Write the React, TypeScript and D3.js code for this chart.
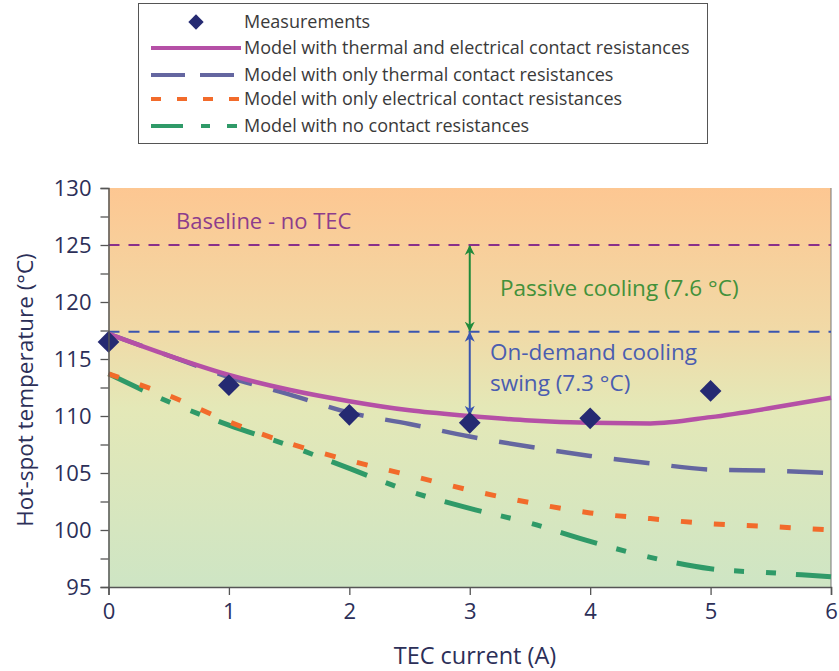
import React, { useEffect, useRef } from "react";
import * as d3 from "d3";

// data
const currents = [0, 1, 2, 3, 4, 5];
const measured = [116.5, 112.7, 110.1, 109.4, 109.8, 112.2];

const modelX = [0, 0.5, 1, 1.5, 2, 2.5, 3, 3.5, 4, 4.5, 5, 5.5, 6];
const bothContact = [117.2, 115.3, 113.6, 112.3, 111.3, 110.5, 110.0, 109.6, 109.4, 109.35, 109.9, 110.7, 111.6];
const thermalOnly = [117.2, 115.3, 113.4, 111.9, 110.3, 109.3, 108.2, 107.3, 106.5, 105.85, 105.3, 105.2, 105.0];
const electricalOnly = [113.7, 111.8, 109.5, 107.6, 106.1, 104.8, 103.5, 102.4, 101.5, 101.0, 100.55, 100.3, 100.0];
const noContact = [113.7, 111.25, 109.2, 107.4, 105.4, 103.4, 101.9, 100.6, 99.0, 97.6, 96.6, 96.25, 95.9];

const baselineTemp = 125;
const passiveTemp = 117.4;
const swingBottom = 110.1;
const arrowAt = 3;

const xTicks = [0, 1, 2, 3, 4, 5, 6];
const yTicks = [95, 100, 105, 110, 115, 120, 125, 130];
const yMinor = [97.5, 102.5, 107.5, 112.5, 117.5, 122.5, 127.5];

const series = [
  { label: "Model with thermal and electrical contact resistances", values: bothContact, color: "#b550a6", dash: null, legendDash: null, width: 4.5 },
  { label: "Model with only thermal contact resistances", values: thermalOnly, color: "#6466a0", dash: "36,22", legendDash: "34,15", width: 4.5 },
  { label: "Model with only electrical contact resistances", values: electricalOnly, color: "#f26b2b", dash: "11,22", legendDash: "10,16", width: 5 },
  { label: "Model with no contact resistances", values: noContact, color: "#2f9a68", dash: "38,20,10,22,10,20", legendDash: "32,18,9,17,10,20", width: 5 },
];

const FONT = "'Open Sans', 'Noto Sans', sans-serif";

const App = () => {
  const svgRef = useRef<SVGSVGElement>(null);

  useEffect(() => {
    const width = 839, height = 671;
    const left = 108.5, right = 831, top = 188, bottom = 587;

    const svg = d3.select(svgRef.current)
      .attr("width", width)
      .attr("height", height)
      .style("display", "block")
      .style("background", "#fff");
    svg.selectAll("*").remove();

    const x = d3.scaleLinear().domain([0, 6]).range([left, right]);
    const y = d3.scaleLinear().domain([95, 130]).range([bottom, top]);

    const defs = svg.append("defs");
    const grad = defs.append("linearGradient")
      .attr("id", "bg").attr("x1", 0).attr("y1", 0).attr("x2", 0).attr("y2", 1);
    [["0%", "#fdc792"], ["35%", "#f1d9a6"], ["55%", "#e4e8b7"], ["100%", "#cee5c4"]]
      .forEach(([o, c]) => grad.append("stop").attr("offset", o).attr("stop-color", c));

    defs.append("marker").attr("id", "gHead").attr("viewBox", "0 0 10 10")
      .attr("refX", 9).attr("refY", 5).attr("markerWidth", 5).attr("markerHeight", 6)
      .attr("orient", "auto-start-reverse")
      .append("path").attr("d", "M0,0 L10,5 L0,10 L3,5 Z").attr("fill", "#1f8a3a");
    defs.append("marker").attr("id", "bHead").attr("viewBox", "0 0 10 10")
      .attr("refX", 9).attr("refY", 5).attr("markerWidth", 5).attr("markerHeight", 6)
      .attr("orient", "auto-start-reverse")
      .append("path").attr("d", "M0,0 L10,5 L0,10 L3,5 Z").attr("fill", "#3a55b0");

    // plot background
    svg.append("rect")
      .attr("x", left).attr("y", top)
      .attr("width", right - left).attr("height", bottom - top)
      .attr("fill", "url(#bg)");
    svg.append("line")
      .attr("x1", right).attr("x2", right).attr("y1", top).attr("y2", bottom)
      .attr("stroke", "#777").attr("stroke-width", 1);

    // reference lines
    svg.append("line")
      .attr("x1", left).attr("x2", right)
      .attr("y1", y(baselineTemp)).attr("y2", y(baselineTemp))
      .attr("stroke", "#8a2f8a").attr("stroke-width", 2).attr("stroke-dasharray", "11,9");
    svg.append("line")
      .attr("x1", left).attr("x2", right)
      .attr("y1", y(passiveTemp)).attr("y2", y(passiveTemp))
      .attr("stroke", "#3a55b0").attr("stroke-width", 2).attr("stroke-dasharray", "11,9");

    // arrows
    svg.append("line")
      .attr("x1", x(arrowAt)).attr("x2", x(arrowAt))
      .attr("y1", y(baselineTemp) + 1).attr("y2", y(passiveTemp) - 1)
      .attr("stroke", "#1f8a3a").attr("stroke-width", 2)
      .attr("marker-start", "url(#gHead)").attr("marker-end", "url(#gHead)");
    svg.append("line")
      .attr("x1", x(arrowAt)).attr("x2", x(arrowAt))
      .attr("y1", y(passiveTemp) + 1).attr("y2", y(swingBottom))
      .attr("stroke", "#3a55b0").attr("stroke-width", 2)
      .attr("marker-start", "url(#bHead)").attr("marker-end", "url(#bHead)");

    // annotations
    const note = (tx: number, ty: number, txt: string, col: string, size: number) =>
      svg.append("text").attr("x", tx).attr("y", ty)
        .attr("font-family", FONT).attr("font-size", size).attr("fill", col).text(txt);
    note(176, 229, "Baseline - no TEC", "#8c3d8c", 22);
    note(500, 296, "Passive cooling (7.6 °C)", "#43913a", 22.5);
    note(490, 360, "On-demand cooling", "#4a5db0", 22.5);
    note(490, 391, "swing (7.3 °C)", "#4a5db0", 22.5);

    // model lines
    const line = d3.line<number>()
      .x((_, i) => x(modelX[i]))
      .y(d => y(d))
      .curve(d3.curveMonotoneX);

    [...series].reverse().forEach(s => {
      svg.append("path")
        .attr("d", line(s.values))
        .attr("fill", "none")
        .attr("stroke", s.color)
        .attr("stroke-width", s.width)
        .attr("stroke-dasharray", s.dash)
        .attr("stroke-linejoin", "round");
    });

    // measurements
    const diamond = d3.symbol().type(d3.symbolDiamond2).size(300);
    svg.selectAll("path.meas")
      .data(measured)
      .enter()
      .append("path")
      .attr("class", "meas")
      .attr("d", diamond)
      .attr("transform", (d, i) => `translate(${x(currents[i])},${y(d)})`)
      .attr("fill", "#252a72");

    // X-axis
    const gx = svg.append("g")
      .attr("transform", `translate(0,${bottom})`)
      .call(d3.axisBottom(x).tickValues(xTicks).tickFormat(d3.format("d")).tickSize(8).tickPadding(8));
    // Y-axis
    const gy = svg.append("g")
      .attr("transform", `translate(${left},0)`)
      .call(d3.axisLeft(y).tickValues(yTicks).tickFormat(d3.format("d")).tickSize(8).tickPadding(9));
    svg.append("g")
      .attr("transform", `translate(${left},0)`)
      .call(d3.axisLeft(y).tickValues(yMinor).tickFormat(() => "").tickSize(8))
      .call(g => g.select(".domain").remove());

    svg.selectAll(".domain").attr("stroke", "#555").attr("stroke-width", 1.5);
    svg.selectAll(".tick line").attr("stroke", "#555").attr("stroke-width", 1.3);
    [gx, gy].forEach(g => g.selectAll("text")
      .attr("font-family", FONT).attr("font-size", 22).attr("fill", "#2c2f58"));

    // axis labels
    svg.append("text")
      .attr("x", 475).attr("y", 664)
      .attr("text-anchor", "middle")
      .attr("font-family", FONT).attr("font-size", 23.5).attr("fill", "#2c2f58")
      .text("TEC current (A)");
    svg.append("text")
      .attr("transform", "translate(33,390) rotate(-90)")
      .attr("text-anchor", "middle")
      .attr("font-family", FONT).attr("font-size", 22.5).attr("fill", "#2c2f58")
      .text("Hot-spot temperature (°C)");

    // legend
    const lg = svg.append("g");
    lg.append("rect")
      .attr("x", 138.5).attr("y", 3.5).attr("width", 569).attr("height", 140)
      .attr("fill", "#fff").attr("stroke", "#555").attr("stroke-width", 1);
    const rowY = [22, 48, 75, 99, 126];
    lg.append("path")
      .attr("d", diamond.size(150))
      .attr("transform", `translate(196,${rowY[0]})`)
      .attr("fill", "#252a72");
    lg.append("text")
      .attr("x", 244).attr("y", rowY[0]).attr("dy", "0.35em")
      .attr("font-family", FONT).attr("font-size", 18).attr("fill", "#3a3a3a")
      .text("Measurements");
    series.forEach((s, i) => {
      const ry = rowY[i + 1];
      lg.append("line")
        .attr("x1", 151).attr("x2", 241).attr("y1", ry).attr("y2", ry)
        .attr("stroke", s.color).attr("stroke-width", 4)
        .attr("stroke-dasharray", s.legendDash);
      lg.append("text")
        .attr("x", 244).attr("y", ry).attr("dy", "0.35em")
        .attr("font-family", FONT).attr("font-size", 18).attr("fill", "#3a3a3a")
        .text(s.label);
    });
  }, []);

  return (
    <div style={{ position: "absolute", left: 0, top: 0 }}>
      <svg ref={svgRef}></svg>
    </div>
  );
};

export default App;
